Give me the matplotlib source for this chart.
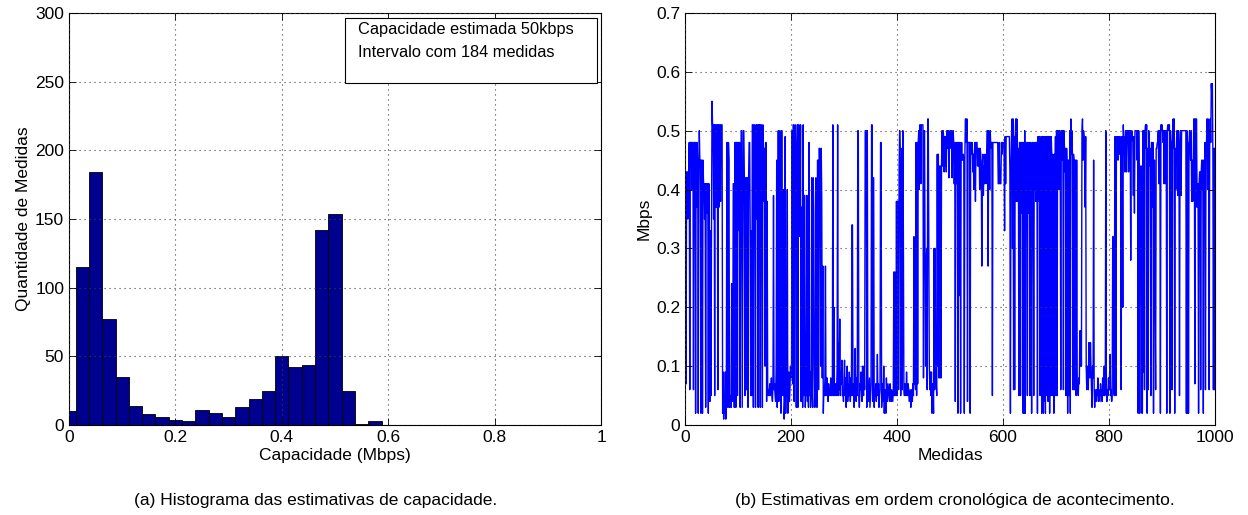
import numpy as np
import matplotlib.pyplot as plt
from matplotlib.patches import Rectangle

plt.rcParams['font.family'] = ['Liberation Sans', 'DejaVu Sans']

# histogram (left): bin centres in Mbps and counts per bin
bin_centers = [0.000, 0.025, 0.050, 0.075, 0.100, 0.125, 0.150, 0.175,
               0.200, 0.225, 0.250, 0.275, 0.300, 0.325, 0.350, 0.375,
               0.400, 0.425, 0.450, 0.475, 0.500, 0.525, 0.550, 0.575]
bin_counts = [10, 115, 184, 77, 35, 14, 8, 6,
              4, 3, 11, 9, 6, 13, 19, 25,
              50, 42, 44, 142, 154, 25, 1, 3]

hist_xticks = [0, 0.2, 0.4, 0.6, 0.8, 1]
hist_xticklabels = ['0', '0.2', '0.4', '0.6', '0.8', '1']
hist_yticks = [0, 50, 100, 150, 200, 250, 300]

legend_lines = ['Capacidade estimada 50kbps', 'Intervalo com 184 medidas']

# chronological estimates (right), Mbps in blocks of 100
medidas_000 = [.28, .07, .43, .43, .35, .43, .43, .48, .06, .48,
               .48, .48, .40, .48, .48, .06, .48, .48, .48, .02,
               .48, .37, .48, .45, .02, .40, .50, .45, .45, .02,
               .45, .45, .02, .45, .41, .41, .35, .41, .03, .41,
               .41, .36, .41, .02, .41, .33, .04, .33, .05, .33,
               .55, .51, .51, .35, .51, .05, .51, .51, .37, .51,
               .51, .06, .51, .37, .51, .51, .38, .51, .51, .51,
               .02, .09, .01, .05, .02, .09, .01, .06, .48, .48,
               .03, .48, .45, .03, .04, .05, .03, .24, .05, .04,
               .41, .41, .03, .48, .48, .03, .48, .48, .05, .48]
medidas_100 = [.48, .33, .48, .03, .33, .50, .50, .03, .28, .50,
               .50, .42, .05, .42, .42, .06, .42, .42, .03, .42,
               .48, .48, .33, .05, .33, .05, .51, .51, .03, .51,
               .51, .40, .03, .51, .35, .51, .51, .03, .51, .43,
               .51, .03, .51, .51, .35, .03, .51, .47, .38, .47,
               .10, .48, .48, .04, .38, .07, .05, .06, .05, .07,
               .05, .06, .08, .05, .04, .07, .39, .06, .07, .05,
               .04, .10, .45, .03, .08, .50, .04, .07, .50, .37,
               .02, .50, .50, .15, .05, .40, .01, .04, .49, .02,
               .10, .05, .40, .02, .03, .09, .04, .06, .10, .08]
medidas_200 = [.10, .50, .07, .51, .51, .04, .45, .51, .43, .03,
               .43, .51, .03, .51, .51, .48, .32, .51, .04, .37,
               .37, .03, .51, .05, .39, .39, .03, .08, .05, .39,
               .04, .08, .03, .48, .05, .09, .03, .06, .42, .06,
               .03, .42, .36, .10, .03, .04, .42, .08, .03, .45,
               .45, .06, .47, .47, .39, .10, .47, .39, .08, .27,
               .02, .06, .05, .08, .27, .05, .06, .08, .05, .04,
               .07, .05, .06, .05, .08, .06, .05, .06, .51, .05,
               .20, .06, .05, .07, .06, .05, .10, .51, .05, .14,
               .06, .18, .05, .09, .07, .11, .05, .06, .04, .08]
medidas_300 = [.11, .05, .08, .03, .06, .10, .04, .07, .05, .09,
               .06, .04, .08, .05, .34, .34, .05, .07, .03, .06,
               .13, .06, .04, .08, .05, .50, .50, .05, .03, .07,
               .06, .09, .05, .04, .10, .06, .05, .10, .06, .50,
               .50, .50, .03, .50, .05, .04, .06, .08, .03, .05,
               .07, .51, .51, .04, .42, .42, .03, .06, .05, .07,
               .04, .06, .12, .05, .07, .03, .05, .06, .48, .48,
               .03, .05, .07, .04, .10, .02, .06, .05, .02, .08,
               .05, .04, .07, .06, .05, .04, .07, .05, .04, .06,
               .05, .04, .06, .26, .05, .26, .06, .05, .38, .05]
medidas_400 = [.26, .38, .06, .44, .50, .47, .05, .42, .47, .06,
               .50, .33, .06, .05, .07, .06, .05, .09, .06, .05,
               .07, .06, .04, .05, .06, .03, .05, .06, .04, .07,
               .05, .32, .07, .09, .06, .48, .05, .48, .07, .48,
               .50, .40, .51, .51, .41, .51, .51, .51, .51, .08,
               .50, .50, .27, .10, .27, .30, .06, .52, .52, .30,
               .10, .06, .09, .05, .09, .02, .07, .05, .02, .30,
               .06, .30, .10, .07, .05, .46, .10, .46, .08, .44,
               .08, .44, .08, .44, .50, .44, .50, .49, .43, .49,
               .44, .49, .43, .50, .50, .47, .50, .42, .48, .50]
medidas_500 = [.50, .47, .50, .42, .48, .50, .48, .41, .48, .04,
               .48, .48, .41, .48, .02, .48, .48, .22, .48, .02,
               .45, .48, .45, .45, .46, .45, .02, .45, .52, .52,
               .48, .52, .04, .48, .48, .48, .48, .02, .48, .48,
               .46, .48, .43, .46, .40, .46, .48, .38, .48, .48,
               .48, .44, .47, .44, .47, .40, .47, .46, .44, .27,
               .44, .46, .39, .44, .41, .46, .44, .41, .46, .50,
               .50, .27, .50, .47, .40, .50, .47, .48, .48, .05,
               .48, .48, .48, .48, .48, .48, .48, .48, .48, .48,
               .41, .41, .48, .41, .41, .41, .48, .46, .48, .48]
medidas_600 = [.48, .46, .33, .49, .41, .49, .49, .49, .49, .49,
               .49, .49, .43, .02, .43, .49, .52, .30, .52, .06,
               .49, .06, .49, .52, .38, .52, .47, .38, .47, .05,
               .48, .48, .05, .48, .36, .48, .48, .02, .48, .02,
               .50, .02, .48, .36, .48, .05, .48, .48, .36, .48,
               .05, .48, .36, .02, .48, .48, .38, .05, .48, .40,
               .48, .38, .48, .48, .02, .49, .38, .49, .49, .05,
               .48, .49, .02, .49, .49, .02, .49, .04, .49, .02,
               .49, .49, .05, .49, .04, .49, .49, .02, .49, .05,
               .49, .46, .05, .46, .40, .02, .46, .40, .49, .05]
medidas_700 = [.50, .05, .50, .45, .50, .40, .50, .46, .06, .50,
               .50, .45, .50, .06, .50, .47, .43, .47, .05, .47,
               .43, .02, .45, .45, .05, .50, .02, .52, .46, .50,
               .46, .06, .46, .45, .06, .45, .45, .05, .45, .08,
               .06, .05, .08, .07, .16, .10, .16, .10, .50, .52,
               .45, .50, .49, .45, .37, .49, .10, .06, .10, .08,
               .06, .14, .10, .08, .14, .10, .06, .03, .10, .08,
               .45, .06, .03, .06, .05, .04, .06, .05, .08, .04,
               .06, .05, .04, .07, .05, .06, .04, .08, .05, .06,
               .10, .05, .06, .50, .06, .04, .06, .05, .08, .06]
medidas_800 = [.08, .12, .05, .06, .04, .05, .32, .32, .06, .05,
               .49, .49, .05, .49, .46, .49, .45, .49, .46, .49,
               .49, .45, .06, .49, .43, .20, .51, .47, .49, .43,
               .50, .50, .43, .50, .48, .50, .43, .50, .48, .50,
               .28, .49, .50, .49, .48, .39, .49, .36, .50, .50,
               .50, .50, .45, .50, .02, .50, .40, .02, .40, .44,
               .44, .02, .02, .50, .09, .50, .06, .50, .51, .47,
               .51, .02, .47, .06, .50, .47, .44, .47, .05, .48,
               .48, .37, .48, .02, .45, .45, .19, .06, .47, .47,
               .48, .48, .50, .41, .50, .50, .02, .51, .50, .51]
medidas_900 = [.50, .48, .50, .41, .50, .50, .41, .50, .02, .50,
               .51, .51, .50, .51, .02, .50, .48, .48, .06, .48,
               .52, .47, .52, .02, .47, .40, .47, .50, .50, .39,
               .50, .47, .05, .47, .50, .39, .50, .50, .50, .50,
               .50, .50, .50, .50, .50, .02, .50, .02, .48, .02,
               .48, .50, .48, .45, .50, .38, .45, .38, .45, .52,
               .52, .07, .52, .37, .52, .41, .37, .41, .02, .41,
               .43, .43, .06, .43, .45, .40, .45, .02, .45, .40,
               .48, .06, .48, .48, .52, .40, .52, .48, .06, .48,
               .52, .48, .58, .56, .58, .46, .06, .47, .06, .47]

serie_xticks = [0, 200, 400, 600, 800, 1000]
serie_yticks = [0, 0.1, 0.2, 0.3, 0.4, 0.5, 0.6, 0.7]
serie_yticklabels = ['0', '0.1', '0.2', '0.3', '0.4', '0.5', '0.6', '0.7']

captions = ['(a) Histograma das estimativas de capacidade.',
            '(b) Estimativas em ordem cronológica de acontecimento.']

serie = np.concatenate([medidas_000, medidas_100, medidas_200, medidas_300, medidas_400,
                        medidas_500, medidas_600, medidas_700, medidas_800, medidas_900])
indices = np.arange(1, len(serie) + 1)

FS = 12.5

fig = plt.figure(figsize=(12.48, 5.15), dpi=100)
ax1 = fig.add_axes([69 / 1248, 90 / 515, 532 / 1248, 412 / 515])
ax2 = fig.add_axes([685 / 1248, 90 / 515, 530 / 1248, 412 / 515])


def matlab_style(ax):
    ax.grid(True, linestyle=(0, (1, 3.5)), color='0.25', linewidth=0.8)
    ax.set_axisbelow(False)
    ax.tick_params(direction='in', top=True, right=True, labelsize=FS, length=5, width=0.6)
    for s in ax.spines.values():
        s.set_linewidth(0.8)


# left: histogram
ax1.bar(bin_centers, bin_counts, width=0.025, color='#00008f', edgecolor='black', linewidth=0.6)
ax1.set_xlim(0, 1)
ax1.set_ylim(0, 300)
ax1.set_xticks(hist_xticks)
ax1.set_xticklabels(hist_xticklabels)
ax1.set_yticks(hist_yticks)
matlab_style(ax1)
ax1.set_xlabel('Capacidade (Mbps)', fontsize=FS, labelpad=2)
ax1.set_ylabel('Quantidade de Medidas', fontsize=FS, labelpad=3)

box = Rectangle((0.519, 0.830), 0.473, 0.158, transform=ax1.transAxes,
                facecolor='white', edgecolor='black', linewidth=0.8, zorder=5)
ax1.add_patch(box)
for k, line in enumerate(legend_lines):
    ax1.text(0.543, 0.959 - k * 0.054, line, transform=ax1.transAxes,
             fontsize=11.8, va='center', ha='left', zorder=6)

# right: chronological series
ax2.plot(indices, serie, color='#0000ff', linewidth=1.0)
ax2.set_xlim(0, 1000)
ax2.set_ylim(0, 0.7)
ax2.set_xticks(serie_xticks)
ax2.set_yticks(serie_yticks)
ax2.set_yticklabels(serie_yticklabels)
matlab_style(ax2)
ax2.set_xlabel('Medidas', fontsize=FS, labelpad=2)
ax2.set_ylabel('Mbps', fontsize=FS, labelpad=3)

fig.text(316 / 1248, 1 - 500 / 515, captions[0], ha='center', va='center', fontsize=12.5)
fig.text(955 / 1248, 1 - 500 / 515, captions[1], ha='center', va='center', fontsize=12.5)

fig.savefig('out.png', dpi=100)
